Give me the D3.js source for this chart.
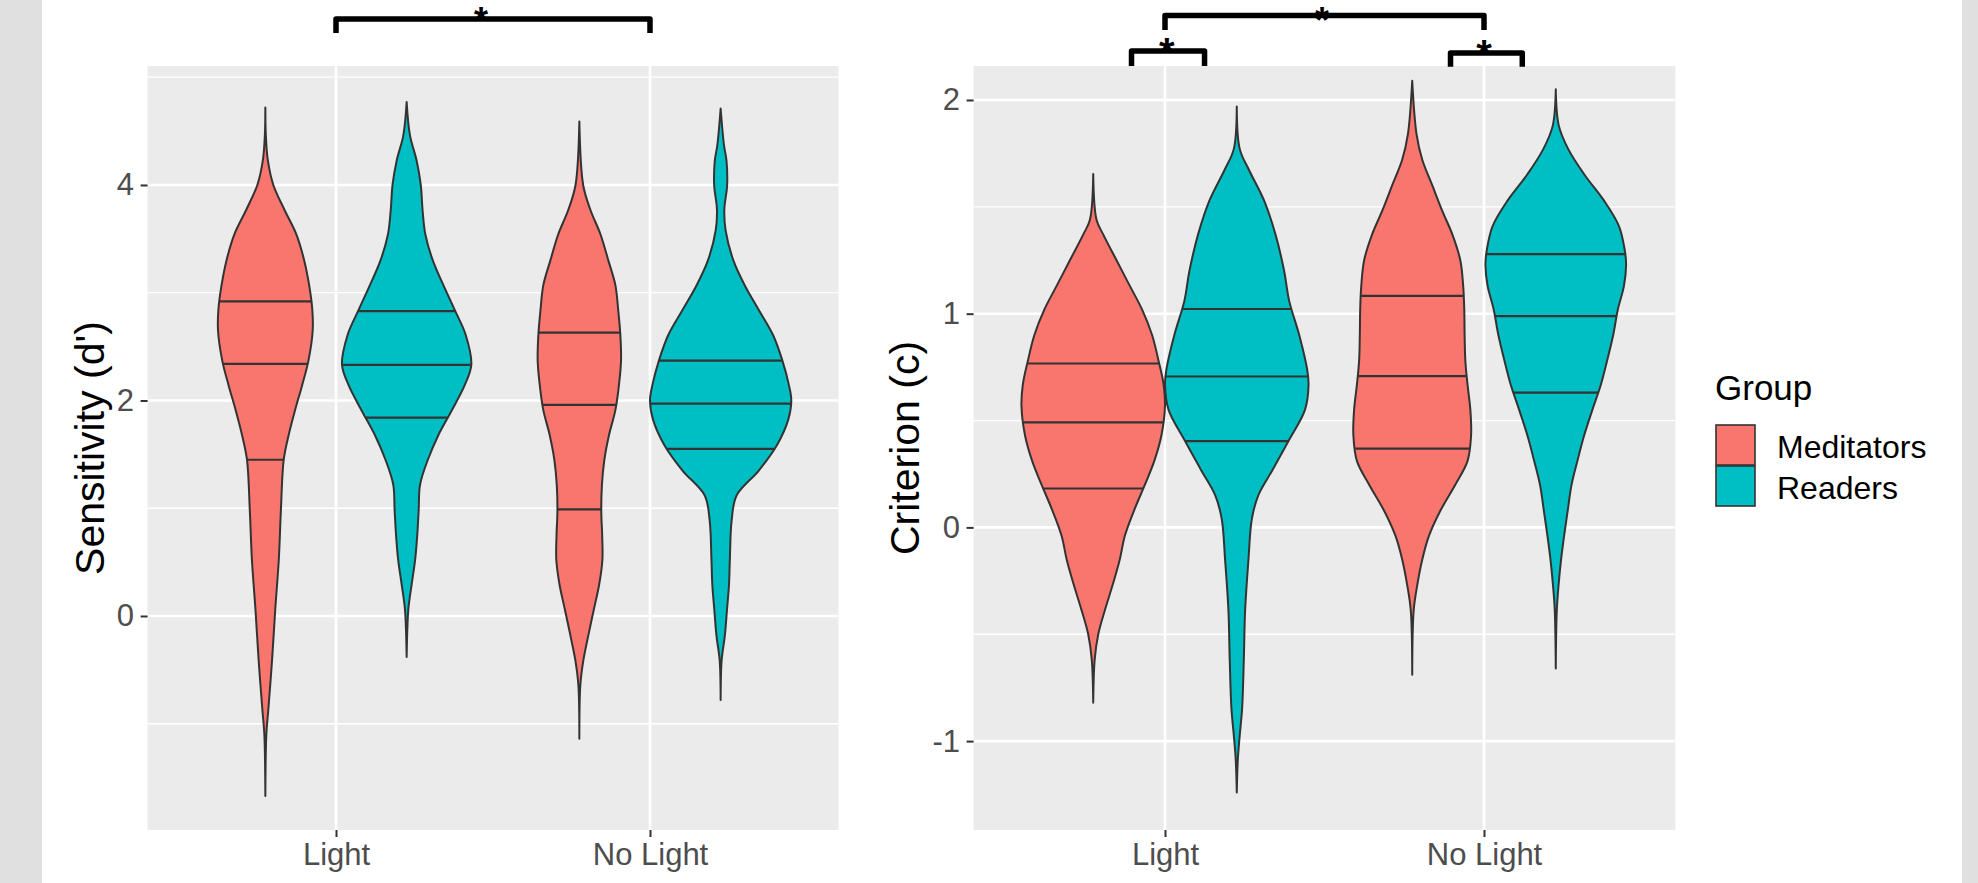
<!DOCTYPE html>
<html>
<head>
<meta charset="utf-8">
<script src="https://cdn.jsdelivr.net/npm/d3@7"></script>
<style>
  body { margin: 0; background: #fff; }
  svg { display: block; }
  text { font-family: "Liberation Sans", Arial, Helvetica, sans-serif; }
</style>
</head>
<body>
<div id="chart-container"></div>
<script>
// categories
const conditions = ["Light", "No Light"];
const groups = ["Meditators", "Readers"];
const groupColors = ["#F8766D", "#00BFC4"];

// violin outlines: [value, relative width 0..1]
const sensMedLight = [[4.72,0],[4.46,0.007],[4.23,0.035],[4.0,0.113],[3.77,0.27],[3.54,0.44],[3.3,0.55],[3.07,0.62],[2.84,0.665],[2.65,0.67],[2.37,0.61],[2.14,0.52],[1.91,0.42],[1.68,0.33],[1.45,0.26],[0.98,0.22],[0.52,0.19],[0.06,0.14],[-0.41,0.095],[-0.87,0.042],[-1.1,0.014],[-1.67,0]];
const sensReaLight = [[4.77,0],[4.46,0.047],[4.23,0.14],[4.0,0.2],[3.77,0.225],[3.54,0.265],[3.3,0.37],[3.07,0.52],[2.84,0.68],[2.61,0.835],[2.33,0.915],[2.14,0.82],[1.91,0.64],[1.68,0.45],[1.45,0.3],[1.22,0.19],[0.98,0.17],[0.75,0.15],[0.52,0.12],[0.29,0.07],[0.06,0.024],[-0.38,0]];
const sensMedNoLight = [[4.59,0],[4.0,0.054],[3.77,0.156],[3.54,0.3],[3.3,0.41],[3.07,0.51],[2.84,0.55],[2.61,0.58],[2.37,0.59],[2.14,0.56],[1.91,0.51],[1.68,0.42],[1.45,0.354],[1.22,0.32],[0.98,0.31],[0.75,0.323],[0.52,0.326],[0.29,0.28],[0.06,0.205],[-0.18,0.127],[-0.41,0.057],[-0.64,0.014],[-1.14,0]];
const sensReaNoLight = [[4.71,0],[4.37,0.047],[4.23,0.082],[4.0,0.092],[3.77,0.052],[3.58,0.07],[3.3,0.18],[3.07,0.34],[2.84,0.54],[2.61,0.74],[2.37,0.874],[2.14,0.967],[2.0,1.0],[1.82,0.956],[1.59,0.8],[1.35,0.54],[1.12,0.227],[0.89,0.156],[0.52,0.13],[0.29,0.118],[0.06,0.09],[-0.18,0.06],[-0.41,0.014],[-0.78,0]];

const critMedLight = [[1.654,0],[1.44,0.046],[1.37,0.14],[1.25,0.325],[1.13,0.51],[1.02,0.68],[0.9,0.82],[0.78,0.91],[0.67,0.98],[0.57,1.0],[0.43,0.95],[0.31,0.85],[0.2,0.72],[0.08,0.57],[-0.04,0.44],[-0.15,0.37],[-0.27,0.27],[-0.39,0.16],[-0.5,0.07],[-0.62,0.02],[-0.82,0]];
const critReaLight = [[1.97,0],[1.77,0.042],[1.67,0.174],[1.53,0.38],[1.37,0.54],[1.2,0.66],[1.06,0.73],[0.9,0.87],[0.74,0.98],[0.67,1.0],[0.55,0.95],[0.41,0.73],[0.27,0.5],[0.15,0.3],[0.04,0.21],[-0.15,0.163],[-0.39,0.116],[-0.62,0.098],[-0.85,0.074],[-0.97,0.042],[-1.09,0.014],[-1.24,0]];
const critMedNoLight = [[2.09,0],[1.84,0.06],[1.72,0.14],[1.6,0.28],[1.48,0.42],[1.37,0.56],[1.25,0.67],[1.13,0.71],[1.02,0.725],[0.9,0.73],[0.78,0.74],[0.67,0.77],[0.55,0.81],[0.43,0.82],[0.31,0.77],[0.2,0.6],[0.08,0.395],[-0.04,0.233],[-0.15,0.14],[-0.27,0.07],[-0.39,0.02],[-0.69,0]];
const critReaNoLight = [[2.05,0],[1.88,0.042],[1.77,0.174],[1.65,0.4],[1.53,0.67],[1.41,0.88],[1.3,0.96],[1.23,0.98],[1.13,0.95],[1.02,0.865],[0.9,0.8],[0.78,0.715],[0.67,0.63],[0.55,0.51],[0.43,0.395],[0.31,0.3],[0.2,0.22],[0.08,0.167],[-0.04,0.116],[-0.15,0.074],[-0.27,0.039],[-0.39,0.014],[-0.66,0]];

// quartile lines (25%, 50%, 75%)
const sensQuartiles = [[1.45,2.34,2.92],[1.84,2.33,2.83],[0.99,1.96,2.63],[1.55,1.97,2.37]];
const critQuartiles = [[0.182,0.491,0.767],[0.404,0.706,1.022],[0.369,0.708,1.083],[0.631,0.989,1.279]];

// axis ticks
const sensTicks = [0, 2, 4];
const sensMinor = [-1, 1, 3, 5];
const critTicks = [-1, 0, 1, 2];
const critMinor = [-0.5, 0.5, 1.5];

// significance brackets: [x from, x to, top, leg end] in axis units
const sensBrackets = [[1, 2, 5.54, 5.41]];
const critBrackets = [[1, 2, 2.395, 2.328], [0.895, 1.124, 2.229, 2.159], [1.895, 2.12, 2.22, 2.155]];
// stars: [x, y baseline, font px]
const sensStars = [[1.462, 5.41, 36]];
const critStars = [[1.492, 2.314, 36], [1.006, 2.16, 40], [2.0, 2.15, 40]];

const W = 1978, H = 883;
const svg = d3.select("#chart-container").append("svg")
  .attr("width", W).attr("height", H);

svg.append("rect").attr("width", W).attr("height", H).attr("fill", "#fff");
// grey side strips of the slide
svg.append("rect").attr("x", 0).attr("y", 0).attr("width", 42).attr("height", H).attr("fill", "#e0e0e0");
svg.append("rect").attr("x", 1962).attr("y", 0).attr("width", 16).attr("height", H).attr("fill", "#e0e0e0");

function widthAt(profile, v) {
  for (let i = 0; i < profile.length - 1; i++) {
    const a = profile[i], b = profile[i + 1];
    if (v <= a[0] && v >= b[0]) {
      const t = (a[0] - v) / (a[0] - b[0]);
      return a[1] + t * (b[1] - a[1]);
    }
  }
  return 0;
}

function drawPanel(p) {
  const x = d3.scaleLinear().domain([0.4, 2.6]).range([p.left, p.right]);
  const y = d3.scaleLinear().domain(p.yDomain).range([p.bottom, p.top]);
  const half = d3.scaleLinear().domain([0, 1]).range([0, x(1.225) - x(1)]);
  const g = svg.append("g");

  g.append("rect")
    .attr("x", p.left).attr("y", p.top)
    .attr("width", p.right - p.left).attr("height", p.bottom - p.top)
    .attr("fill", "#EBEBEB");

  g.selectAll(".minor").data(p.minor).join("line")
    .attr("x1", p.left).attr("x2", p.right)
    .attr("y1", d => y(d)).attr("y2", d => y(d))
    .attr("stroke", "#fff").attr("stroke-width", 1.3);

  g.selectAll(".major").data(p.ticks).join("line")
    .attr("x1", p.left).attr("x2", p.right)
    .attr("y1", d => y(d)).attr("y2", d => y(d))
    .attr("stroke", "#fff").attr("stroke-width", 2.6);

  g.selectAll(".vgrid").data([1, 2]).join("line")
    .attr("x1", d => x(d)).attr("x2", d => x(d))
    .attr("y1", p.top).attr("y2", p.bottom)
    .attr("stroke", "#fff").attr("stroke-width", 2.6);

  // violins
  p.violins.forEach((profile, i) => {
    const ci = Math.floor(i / 2), gi = i % 2;
    const cx = x(ci + 1 + (gi === 0 ? -0.225 : 0.225));
    const area = d3.area()
      .curve(d3.curveCatmullRom.alpha(0.5))
      .y(d => y(d[0]))
      .x0(d => cx - half(d[1]))
      .x1(d => cx + half(d[1]));
    g.append("path").datum(profile)
      .attr("d", area)
      .attr("fill", groupColors[gi])
      .attr("stroke", "#333333")
      .attr("stroke-width", 2)
      .attr("stroke-linejoin", "round");
    p.quartiles[i].forEach(q => {
      const w = half(widthAt(profile, q));
      g.append("line")
        .attr("x1", cx - w).attr("x2", cx + w)
        .attr("y1", y(q)).attr("y2", y(q))
        .attr("stroke", "#333333").attr("stroke-width", 2.2);
    });
  });

  // axes
  const yAxis = g.append("g")
    .attr("transform", `translate(${p.left},0)`)
    .call(d3.axisLeft(y).tickValues(p.ticks).tickSize(7).tickPadding(6.6).tickFormat(d => String(d)));
  const xAxis = g.append("g")
    .attr("transform", `translate(0,${p.bottom})`)
    .call(d3.axisBottom(x).tickValues([1, 2]).tickSize(7).tickPadding(6).tickFormat(d => conditions[d - 1]));
  [yAxis, xAxis].forEach(a => {
    a.select(".domain").remove();
    a.selectAll(".tick line").attr("stroke", "#333333").attr("stroke-width", 2);
    a.selectAll(".tick text")
      .attr("fill", "#4D4D4D")
      .style("font-size", "31px");
  });

  // y title
  g.append("text")
    .attr("transform", `translate(${p.titleX},${(p.top + p.bottom) / 2}) rotate(-90)`)
    .attr("text-anchor", "middle")
    .style("font-size", "41px")
    .attr("fill", "#000")
    .text(p.title);

  // significance brackets
  p.brackets.forEach(b => {
    g.append("path")
      .attr("d", `M${x(b[0])},${y(b[3])}L${x(b[0])},${y(b[2])}L${x(b[1])},${y(b[2])}L${x(b[1])},${y(b[3])}`)
      .attr("fill", "none")
      .attr("stroke", "#000")
      .attr("stroke-width", 5.5)
      .attr("stroke-linejoin", "round");
  });
  p.stars.forEach(s => {
    g.append("text")
      .attr("x", x(s[0])).attr("y", y(s[1]))
      .attr("text-anchor", "middle")
      .style("font-size", s[2] + "px")
      .style("font-weight", "bold")
      .attr("fill", "#000")
      .text("*");
  });
}

drawPanel({
  left: 147.6, right: 838.4, top: 66, bottom: 830,
  yDomain: [-1.986, 5.104],
  ticks: sensTicks, minor: sensMinor,
  violins: [sensMedLight, sensReaLight, sensMedNoLight, sensReaNoLight],
  quartiles: sensQuartiles,
  title: "Sensitivity (d')", titleX: 104,
  brackets: sensBrackets, stars: sensStars
});

drawPanel({
  left: 973.6, right: 1675.4, top: 66, bottom: 830,
  yDomain: [-1.416, 2.159],
  ticks: critTicks, minor: critMinor,
  violins: [critMedLight, critReaLight, critMedNoLight, critReaNoLight],
  quartiles: critQuartiles,
  title: "Criterion (c)", titleX: 919,
  brackets: critBrackets, stars: critStars
});

// legend
const legend = svg.append("g").attr("transform", "translate(1715,0)");
legend.append("text")
  .attr("x", 0).attr("y", 400)
  .style("font-size", "35px")
  .attr("fill", "#000")
  .text("Group");
legend.selectAll(".key").data(groups).join("rect")
  .attr("x", 1).attr("y", (d, i) => 425 + i * 41)
  .attr("width", 39).attr("height", 40)
  .attr("fill", (d, i) => groupColors[i])
  .attr("stroke", "#333333").attr("stroke-width", 1.6);
legend.selectAll(".lab").data(groups).join("text")
  .attr("x", 62).attr("y", (d, i) => 458 + i * 41)
  .style("font-size", "32px")
  .attr("fill", "#000")
  .text(d => d);
</script>
</body>
</html>
